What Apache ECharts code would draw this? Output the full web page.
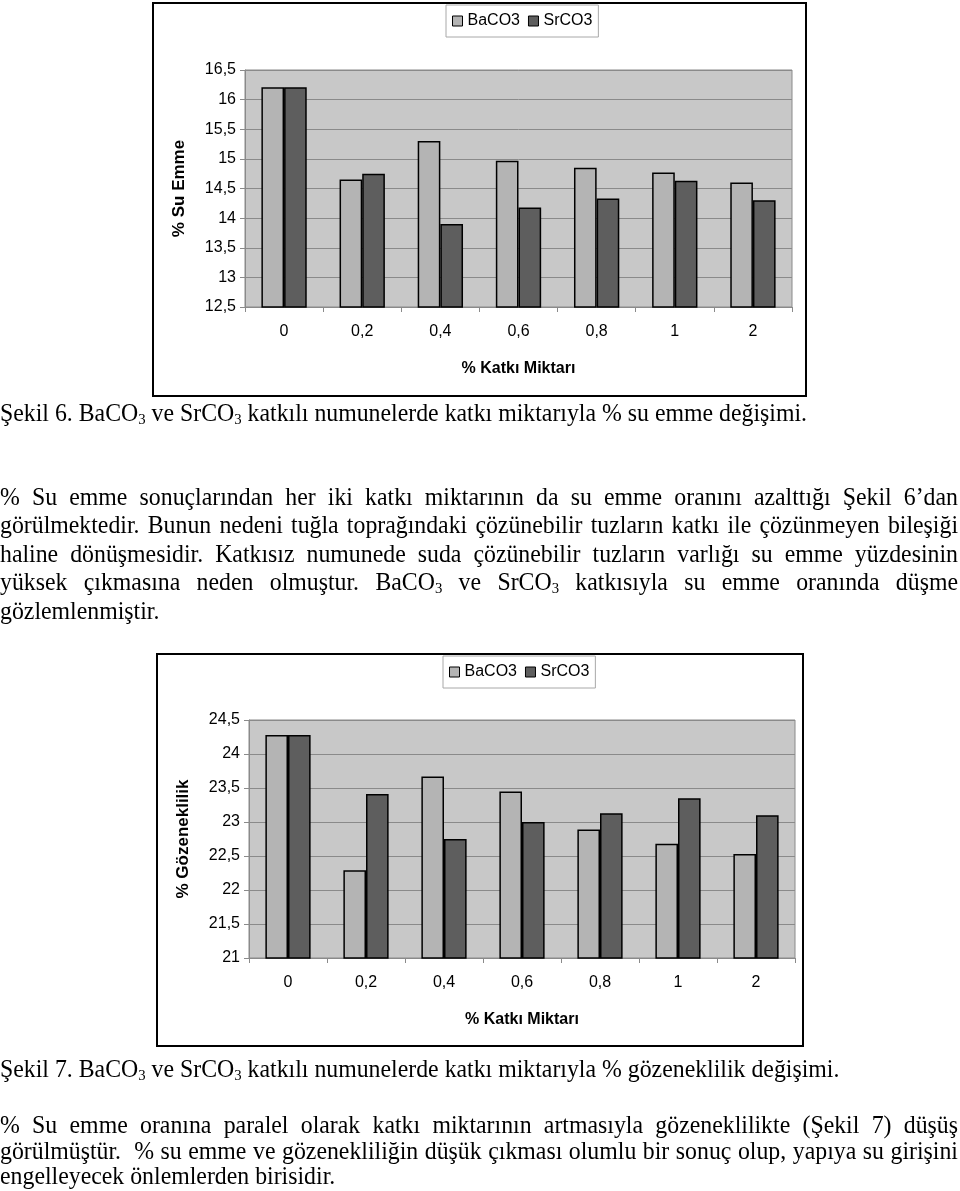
<!DOCTYPE html>
<html>
<head>
<meta charset="utf-8">
<script src="https://cdn.jsdelivr.net/npm/echarts@6/dist/echarts.min.js"></script>
<style>
  html, body { margin: 0; padding: 0; background: #fff; }
  #page { position: relative; width: 960px; height: 1191px; overflow: hidden; background: #fff; }
  #chart { position: absolute; left: 0; top: 0; width: 960px; height: 1191px; }
  #text { position: absolute; left: 0; top: 0; width: 1400px; height: 1191px; transform-origin: 0 0;
          font-family: "Liberation Serif", "Times New Roman", serif; font-size: 25px; color: #000; }
  .ln { position: absolute; left: 0; line-height: 28px; white-space: nowrap; }
  .ln span { white-space: pre; }
  sub { font-size: 0.62em; vertical-align: -0.22em; line-height: 0; }
</style>
</head>
<body>
<div id="page">
  <div id="chart"></div>
  <div id="text"></div>
</div>
<script>
// ---------- data ----------
const categories = ['0', '0,2', '0,4', '0,6', '0,8', '1', '2'];
const seriesNames = ['BaCO3', 'SrCO3'];
const suEmmeBaCO3 = [16.21, 14.65, 15.30, 14.97, 14.85, 14.77, 14.60];
const suEmmeSrCO3 = [16.21, 14.75, 13.90, 14.18, 14.33, 14.63, 14.30];
const gozenekBaCO3 = [24.28, 22.29, 23.67, 23.45, 22.89, 22.68, 22.53];
const gozenekSrCO3 = [24.28, 23.41, 22.75, 23.00, 23.13, 23.35, 23.10];
const yTitle1 = '% Su Emme';
const yTitle2 = '% Gözeneklilik';
const xTitle = '% Katkı Miktarı';

const caption6 = 'Şekil 6. BaCO<sub>3</sub> ve SrCO<sub>3</sub> katkılı numunelerde katkı miktarıyla % su emme değişimi.';
const para1 = [
  '% Su emme sonuçlarından her iki katkı miktarının da su emme oranını azalttığı Şekil 6’dan',
  'görülmektedir. Bunun nedeni tuğla toprağındaki çözünebilir tuzların katkı ile çözünmeyen bileşiği',
  'haline dönüşmesidir. Katkısız numunede suda çözünebilir tuzların varlığı su emme yüzdesinin',
  'yüksek çıkmasına neden olmuştur. BaCO<sub>3</sub> ve SrCO<sub>3</sub> katkısıyla su emme oranında düşme',
  'gözlemlenmiştir.'
];
const caption7 = 'Şekil 7. BaCO<sub>3</sub> ve SrCO<sub>3</sub> katkılı numunelerde katkı miktarıyla % gözeneklilik değişimi.';
const para2 = [
  '% Su emme oranına paralel olarak katkı miktarının artmasıyla gözeneklilikte (Şekil 7) düşüş',
  'görülmüştür.  % su emme ve gözenekliliğin düşük çıkması olumlu bir sonuç olup, yapıya su girişini',
  'engelleyecek önlemlerden birisidir.'
];

// ---------- chart ----------
const colBa = '#b4b4b4', colSr = '#5e5e5e';
const font = '"Liberation Sans", Arial, sans-serif';
const fmt = v => String(v).replace('.', ',');

function gridDef(left, top, width, height) {
  return { left, top, width, height, show: true, backgroundColor: '#c8c8c8',
           borderColor: '#8a8a8a', borderWidth: 1, containLabel: false };
}
function xAxisDef(gi) {
  return {
    type: 'category', gridIndex: gi, data: categories,
    axisLine: { lineStyle: { color: '#8a8a8a', width: 1 } },
    axisTick: { show: true, alignWithLabel: false, length: 5, lineStyle: { color: '#8a8a8a' } },
    axisLabel: { color: '#000', fontSize: 16, fontFamily: font, margin: 17 },
    name: xTitle, nameLocation: 'middle', nameGap: 54,
    nameTextStyle: { color: '#000', fontSize: 16, fontWeight: 'bold', fontFamily: font }
  };
}
function yAxisDef(gi, min, max, title, gap) {
  return {
    type: 'value', gridIndex: gi, min, max, interval: 0.5,
    axisLine: { show: true, lineStyle: { color: '#8a8a8a', width: 1 } },
    axisTick: { show: true, length: 5, lineStyle: { color: '#8a8a8a' } },
    splitLine: { show: true, lineStyle: { color: '#8a8a8a', width: 1 } },
    axisLabel: { color: '#000', fontSize: 16, fontFamily: font, margin: 9, formatter: fmt },
    name: title, nameLocation: 'middle', nameRotate: 90, nameGap: gap,
    nameTextStyle: { color: '#000', fontSize: 17, fontWeight: 'bold', fontFamily: font }
  };
}
function barDef(name, gi, data, color) {
  return {
    type: 'bar', name, xAxisIndex: gi, yAxisIndex: gi, data,
    barGap: '0%', barCategoryGap: '42%',
    itemStyle: { color, borderColor: '#000', borderWidth: 1.5 },
    emphasis: { disabled: true }, animation: false
  };
}
function legendDef(left, top) {
  return {
    left, top, data: seriesNames, icon: 'rect', itemWidth: 10, itemHeight: 10, itemGap: 8,
    padding: [8, 6], borderColor: '#a8a8a8', borderWidth: 1, backgroundColor: '#fff',
    itemStyle: { borderColor: '#000', borderWidth: 1 },
    textStyle: { color: '#000', fontSize: 16, fontFamily: font }
  };
}

const chart = echarts.init(document.getElementById('chart'), null, { renderer: 'canvas' });
chart.setOption({
  animation: false,
  backgroundColor: '#fff',
  grid: [gridDef(245, 70, 547, 237), gridDef(249, 720, 546, 238)],
  xAxis: [xAxisDef(0), xAxisDef(1)],
  yAxis: [yAxisDef(0, 12.5, 16.5, yTitle1, 57), yAxisDef(1, 21, 24.5, yTitle2, 57)],
  legend: [legendDef(446, 5), legendDef(443, 656)],
  series: [
    barDef(seriesNames[0], 0, suEmmeBaCO3, colBa),
    barDef(seriesNames[1], 0, suEmmeSrCO3, colSr),
    barDef(seriesNames[0], 1, gozenekBaCO3, colBa),
    barDef(seriesNames[1], 1, gozenekSrCO3, colSr)
  ],
  graphic: [
    { type: 'rect', silent: true, z: 100, shape: { x: 153, y: 3, width: 653, height: 393 },
      style: { fill: null, stroke: '#000', lineWidth: 2 } },
    { type: 'rect', silent: true, z: 100, shape: { x: 157, y: 654, width: 646, height: 392 },
      style: { fill: null, stroke: '#000', lineWidth: 2 } }
  ]
});

// ---------- text ----------
const textBox = document.getElementById('text');
function addLine(html, baseline) {
  const d = document.createElement('div');
  d.className = 'ln';
  d.style.top = (baseline - 22) + 'px';
  const s = document.createElement('span');
  s.innerHTML = html;
  d.appendChild(s);
  textBox.appendChild(d);
  return s;
}
const cap6 = addLine(caption6, 421);
const sx = 807 / cap6.getBoundingClientRect().width;
const fullW = 958 / sx;
function justify(span) {
  const n = (span.textContent.match(/ /g) || []).length;
  const w = span.getBoundingClientRect().width;
  if (n > 0) span.style.wordSpacing = ((fullW - w) / n) + 'px';
}
const p1Base = [505, 533.4, 561.8, 590.2, 618.6];
para1.forEach((t, i) => { const s = addLine(t, p1Base[i]); if (i < para1.length - 1) justify(s); });
addLine(caption7, 1077);
const p2Base = [1133, 1159, 1184];
para2.forEach((t, i) => { const s = addLine(t, p2Base[i]); if (i < para2.length - 1) justify(s); });
textBox.style.transform = 'scaleX(' + sx + ')';
</script>
</body>
</html>
